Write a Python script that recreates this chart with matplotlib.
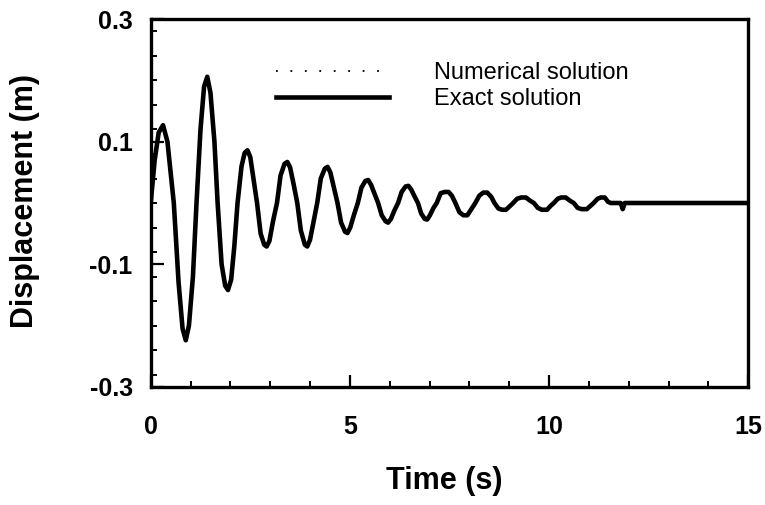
import matplotlib
matplotlib.use("Agg")
import matplotlib.pyplot as plt
from matplotlib.ticker import MultipleLocator

# values (time in s, displacement in m)
time_s = [
    0.00, 0.10, 0.20, 0.31, 0.42, 0.58, 0.70, 0.80, 0.88, 0.96,
    1.06, 1.15, 1.25, 1.34, 1.42, 1.50, 1.60, 1.68, 1.78, 1.87,
    1.94, 2.02, 2.10, 2.18, 2.28, 2.36, 2.43, 2.50, 2.58, 2.67,
    2.76, 2.85, 2.91, 2.98, 3.07, 3.17, 3.26, 3.36, 3.43, 3.50,
    3.59, 3.68, 3.77, 3.87, 3.93, 4.00, 4.09, 4.18, 4.27, 4.37,
    4.44, 4.51, 4.60, 4.69, 4.78, 4.88, 4.94, 5.01, 5.10, 5.20,
    5.29, 5.39, 5.46, 5.53, 5.62, 5.71, 5.80, 5.90, 5.96, 6.03,
    6.12, 6.21, 6.30, 6.40, 6.47, 6.54, 6.63, 6.71, 6.79, 6.88,
    6.94, 7.01, 7.10, 7.18, 7.28, 7.38, 7.48, 7.56, 7.65, 7.75,
    7.85, 7.95, 8.05, 8.15, 8.25, 8.35, 8.45, 8.55, 8.63, 8.73,
    8.82, 8.92, 9.02, 9.10, 9.20, 9.30, 9.42, 9.52, 9.62, 9.72,
    9.82, 9.95, 10.05, 10.12, 10.22, 10.30, 10.42, 10.52, 10.62, 10.72,
    10.82, 10.95, 11.05, 11.12, 11.22, 11.30, 11.40, 11.48, 11.55, 11.80,
    11.85, 11.90, 15.00,
]
displacement = [
    0.000, 0.070, 0.115, 0.127, 0.100, 0.000, -0.130, -0.205, -0.224, -0.200,
    -0.120, 0.000, 0.120, 0.190, 0.206, 0.180, 0.100, 0.000, -0.100, -0.135,
    -0.142, -0.125, -0.070, 0.000, 0.060, 0.082, 0.086, 0.075, 0.040, 0.000,
    -0.050, -0.068, -0.071, -0.062, -0.030, 0.000, 0.045, 0.064, 0.067, 0.058,
    0.030, 0.000, -0.045, -0.068, -0.071, -0.060, -0.030, 0.000, 0.040, 0.056,
    0.059, 0.050, 0.025, 0.000, -0.032, -0.047, -0.049, -0.040, -0.020, 0.000,
    0.025, 0.036, 0.0375, 0.030, 0.015, 0.000, -0.020, -0.030, -0.032, -0.026,
    -0.012, 0.000, 0.018, 0.027, 0.028, 0.022, 0.010, 0.000, -0.017, -0.026,
    -0.027, -0.020, -0.008, 0.000, 0.016, 0.018, 0.018, 0.012, 0.000, -0.015,
    -0.020, -0.020, -0.010, 0.000, 0.012, 0.017, 0.017, 0.010, 0.000, -0.009,
    -0.011, -0.011, -0.005, 0.000, 0.007, 0.009, 0.009, 0.004, 0.000, -0.008,
    -0.011, -0.011, -0.004, 0.000, 0.007, 0.009, 0.009, 0.004, 0.000, -0.008,
    -0.010, -0.010, -0.004, 0.000, 0.007, 0.009, 0.009, 0.002, 0.000, 0.000,
    -0.010, 0.000, 0.000,
]
x_ticks = [0, 5, 10, 15]
y_ticks = [-0.3, -0.1, 0.1, 0.3]

plt.rcParams["font.family"] = ["Liberation Sans", "DejaVu Sans"]

fig = plt.figure(figsize=(7.65, 5.05), dpi=100)
ax = fig.add_axes([0.197, 0.234, 0.781, 0.728])

ax.plot(time_s, displacement, color="black", linestyle=(0, (1, 7)),
        linewidth=1.3, label="Numerical solution")
ax.plot(time_s, displacement, color="black", linewidth=3.3,
        solid_joinstyle="round", label="Exact solution")

ax.set_xlim(0, 15)
ax.set_ylim(-0.3, 0.3)
ax.set_xticks(x_ticks)
ax.set_yticks(y_ticks)
ax.set_xticklabels([str(t) for t in x_ticks])
ax.set_yticklabels(["%.1f" % v for v in y_ticks])
ax.xaxis.set_minor_locator(MultipleLocator(1))
ax.yaxis.set_minor_locator(MultipleLocator(0.04))

for s in ax.spines.values():
    s.set_linewidth(2.4)
ax.tick_params(which="major", direction="in", length=9, width=1.6,
               labelsize=18)
ax.tick_params(which="minor", direction="in", length=4.5, width=1.4)
ax.tick_params(axis="x", which="major", pad=20)
ax.tick_params(axis="y", which="major", pad=13)
for lab in ax.get_xticklabels() + ax.get_yticklabels():
    lab.set_fontweight("bold")

ax.set_xlabel("Time (s)", fontsize=22, fontweight="bold")
ax.set_ylabel("Displacement (m)", fontsize=22, fontweight="bold")
ax.xaxis.label.set_va("center")
ax.yaxis.label.set_va("center")
ax.xaxis.set_label_coords(0.491, -0.255)
ax.yaxis.set_label_coords(-0.21, 0.505)

leg = ax.legend(loc="upper left", bbox_to_anchor=(0.194, 0.908), frameon=False,
                fontsize=17, handlelength=4.8, handletextpad=1.9,
                labelspacing=0.15, borderaxespad=0.0)

fig.savefig("out.png", dpi=100)
